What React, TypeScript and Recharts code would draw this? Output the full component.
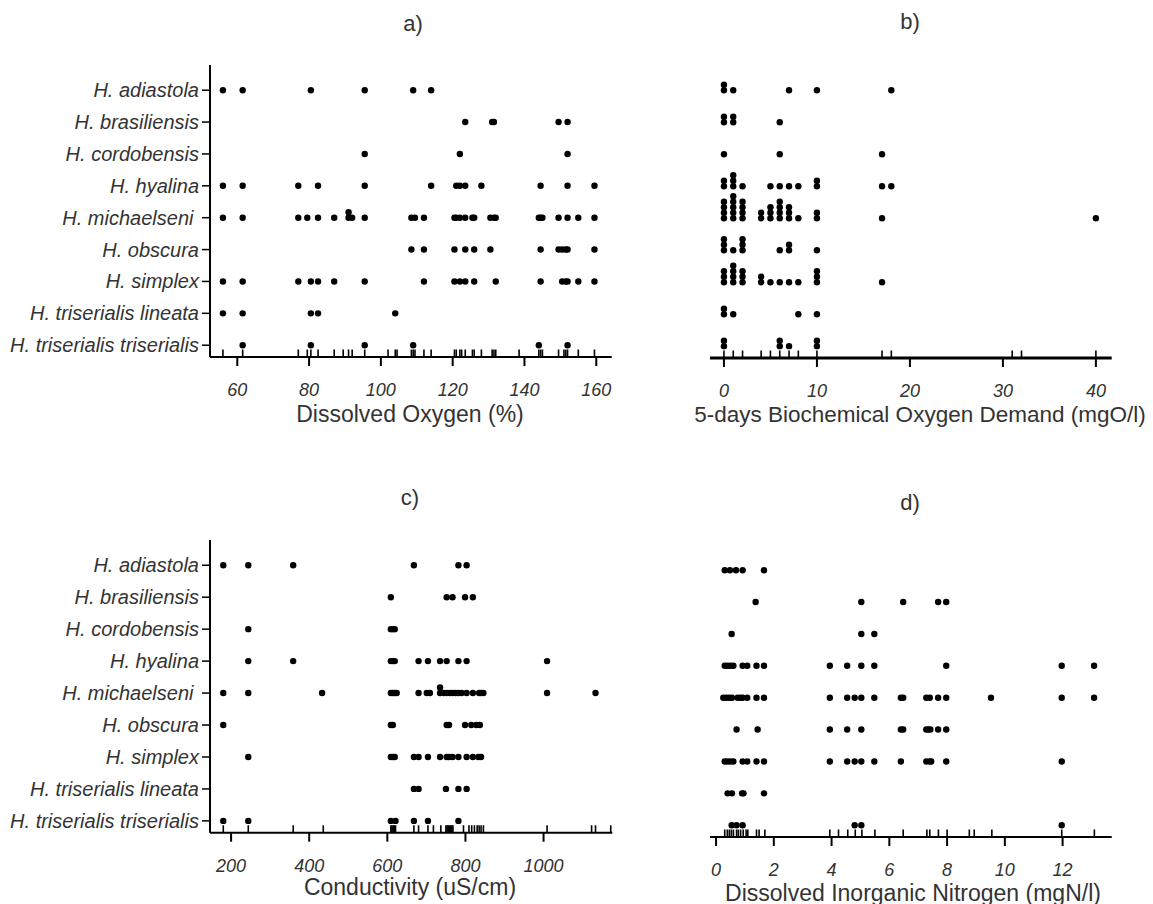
import { ScatterChart, Scatter, XAxis, YAxis } from "recharts";

// species rows, top to bottom
const species = [
  "H. adiastola",
  "H. brasiliensis",
  "H. cordobensis",
  "H. hyalina",
  "H. michaelseni\u00a0",
  "H. obscura",
  "H. simplex",
  "H. triserialis lineata",
  "H. triserialis triserialis",
];

// a) Dissolved Oxygen (%)
const oxygen = [
  [56, 61.5, 80.5, 95.5, 109, 114],
  [123.5, 131, 131.5, 149.5, 152],
  [95.5, 122, 152],
  [56, 61.5, 77, 82.5, 95.5, 114, 121, 122, 123.5, 128, 144.5, 152, 159.5],
  [56, 61.5, 77, 79.5, 82.5, 87, 91, 91, 92, 95.5, 108.5, 109.5, 112, 120.5, 121, 122, 123.5, 125.5, 126, 130.5, 131.5, 132, 144, 144.5, 145, 149.5, 152, 155, 159.5],
  [108.5, 112, 120.5, 123.5, 126, 130.5, 144.5, 149.5, 150.5, 151.5, 152, 159.5],
  [56, 61.5, 77, 80.5, 82.5, 87, 95.5, 112, 120.5, 122, 123.5, 126, 132, 144.5, 150.5, 151.5, 152, 155, 159.5],
  [56, 61.5, 80.5, 82.5, 104],
  [61.5, 80.5, 95.5, 109, 144, 152],
];
const oxygenRug = [56, 61.5, 77, 79.5, 80.5, 82.5, 87, 89.5, 91, 92, 95.5, 102, 104, 104.5, 108.5, 109, 109.5, 112, 114, 120.5, 121, 122, 122.5, 123.5, 125.5, 126, 128, 131, 131.5, 132, 138.5, 144, 144.5, 145, 149.5, 151, 151.5, 152, 155, 159.5];
const oxygenTicks = [60, 80, 100, 120, 140, 160];

// b) 5-days Biochemical Oxygen Demand (mgO/l)
const bod = [
  [0, 0, 1, 7, 10, 18],
  [0, 0, 1, 1, 6],
  [0, 6, 17],
  [0, 0, 1, 1, 1, 2, 5, 6, 7, 8, 10, 10, 17, 18],
  [0, 0, 0, 0, 1, 1, 1, 1, 1, 2, 2, 2, 2, 4, 4, 5, 5, 5, 6, 6, 6, 6, 7, 7, 7, 8, 10, 10, 17, 40],
  [0, 0, 0, 1, 2, 2, 2, 6, 7, 7, 10],
  [0, 0, 0, 1, 1, 1, 1, 2, 2, 2, 4, 4, 5, 6, 7, 8, 10, 10, 10, 17],
  [0, 0, 1, 8, 10],
  [0, 0, 6, 6, 7, 10, 10],
];
const bodRug = [0, 1, 2, 4, 5, 6, 7, 8, 10, 17, 18, 31, 32, 40];
const bodTicks = [0, 10, 20, 30, 40];

// c) Conductivity (uS/cm)
const conductivity = [
  [180, 244, 359, 668, 782, 803],
  [609, 752, 767, 799, 819],
  [244, 609, 614, 619],
  [244, 359, 609, 614, 619, 680, 704, 735, 752, 782, 803, 1009],
  [180, 244, 433, 609, 614, 619, 624, 680, 701, 709, 735, 735, 745, 752, 760, 767, 775, 782, 790, 803, 819, 835, 840, 846, 1009, 1133],
  [180, 609, 614, 752, 758, 799, 815, 828, 837],
  [244, 609, 614, 619, 668, 680, 704, 735, 752, 758, 767, 782, 803, 819, 833, 840],
  [668, 680, 750, 782, 803],
  [180, 244, 609, 621, 668, 704, 782],
];
const conductivityRug = [180, 244, 359, 436, 609, 612, 615, 618, 621, 668, 680, 704, 718, 737, 750, 753, 756, 759, 762, 765, 768, 795, 809, 816, 823, 830, 835, 840, 846, 1009, 1123, 1133, 1172];
const conductivityTicks = [200, 400, 600, 800, 1000];

// d) Dissolved Inorganic Nitrogen (mgN/l)
const nitrogen = [
  [0.3, 0.48, 0.69, 0.92, 1.66],
  [1.37, 5.03, 6.48, 7.69, 7.97],
  [0.54, 5.03, 5.48],
  [0.3, 0.4, 0.5, 0.6, 0.92, 1.08, 1.4, 1.66, 3.94, 4.54, 5.03, 5.48, 7.97, 11.97, 13.09],
  [0.25, 0.35, 0.45, 0.55, 0.75, 0.85, 0.92, 1.08, 1.4, 1.66, 3.94, 4.54, 4.8, 5.03, 5.48, 6.4, 6.48, 7.28, 7.4, 7.69, 7.97, 9.52, 11.97, 13.09],
  [0.71, 1.44, 3.94, 4.54, 5.03, 6.4, 6.48, 7.28, 7.35, 7.42, 7.69, 7.97],
  [0.3, 0.4, 0.5, 0.6, 0.92, 1.08, 1.4, 1.66, 3.94, 4.54, 4.8, 5.03, 5.48, 6.4, 7.28, 7.4, 7.45, 7.97, 11.97],
  [0.4, 0.55, 0.9, 0.95, 1.66],
  [0.54, 0.71, 0.92, 4.8, 5.03, 11.97],
];
const nitrogenRug = [0.3, 0.39, 0.46, 0.53, 0.6, 0.71, 0.77, 0.85, 0.94, 1.04, 1.1, 1.4, 1.49, 1.69, 3.94, 4.24, 4.56, 4.82, 5.05, 5.5, 6.48, 7.3, 7.4, 7.7, 8.0, 8.77, 8.94, 9.55, 11.97, 13.1];
const nitrogenTicks = [0, 2, 4, 6, 8, 10, 12];

const rowTicks = [0, 1, 2, 3, 4, 5, 6, 7, 8];
const ROW_MIN = -0.37;
const ROW_MAX = 8.79;
const INK = "#000";
const TEXT = "#333";
const FONT = '"Liberation Sans", Arial, sans-serif';

// one point per value, repeated values stack upwards
function toPoints(rows: number[][]) {
  const pts: { x: number; y: number; k: number }[] = [];
  rows.forEach((vals, i) => {
    const seen: Record<string, number> = {};
    vals.forEach((v) => {
      const k = seen[v] || 0;
      seen[v] = k + 1;
      pts.push({ x: v, y: 8 - i, k });
    });
  });
  return pts;
}

const Dot = (p: any) => {
  const k = p.payload?.k ?? p.k ?? 0;
  return <circle cx={p.cx} cy={p.cy - k * 5.5} r={3.2} fill={INK} />;
};

const RugMark = (p: any) => (
  <line x1={p.cx} x2={p.cx} y1={p.cy} y2={p.cy - 7.5} stroke={INK} strokeWidth={1.6} />
);

const XTick = (p: any) => (
  <text x={p.x} y={p.y} dy={30} textAnchor="middle" fontStyle="italic" fontSize={18} fill={TEXT} fontFamily={FONT}>
    {p.payload.value}
  </text>
);

const YTick = (p: any) => (
  <text x={p.x} y={p.y} dy={7} textAnchor="end" fontStyle="italic" fontSize={20} fill={TEXT} fontFamily={FONT}>
    {species[8 - p.payload.value]}
  </text>
);

type PanelProps = {
  left: number;
  top: number;
  width: number;
  height: number;
  margin: { top: number; right: number; bottom: number; left: number };
  rows: number[][];
  rug: number[];
  domain: [number, number];
  ticks: number[];
  names: boolean;
  xAxisWidth?: number;
};

function Panel({ left, top, width, height, margin, rows, rug, domain, ticks, names, xAxisWidth = 2 }: PanelProps) {
  const points = toPoints(rows);
  const rugPoints = rug.map((v) => ({ x: v, y: ROW_MIN }));
  return (
    <div style={{ position: "absolute", left, top }}>
      <ScatterChart width={width} height={height} margin={margin}>
        <XAxis
          type="number"
          dataKey="x"
          domain={domain}
          allowDataOverflow
          ticks={ticks}
          interval={0}
          height={40}
          axisLine={{ stroke: INK, strokeWidth: xAxisWidth }}
          tickLine={{ stroke: INK, strokeWidth: 2 }}
          tickSize={9}
          tickMargin={0}
          tick={<XTick />}
        />
        <YAxis
          type="number"
          dataKey="y"
          domain={[ROW_MIN, ROW_MAX]}
          allowDataOverflow
          ticks={rowTicks}
          interval={0}
          width={names ? 210 : 0}
          axisLine={{ stroke: INK, strokeWidth: 2 }}
          tickLine={names ? { stroke: INK, strokeWidth: 1.5 } : false}
          tickSize={8}
          tickMargin={3}
          tick={names ? <YTick /> : false}
        />
        <Scatter data={rugPoints} shape={RugMark} isAnimationActive={false} />
        <Scatter data={points} shape={Dot} isAnimationActive={false} />
      </ScatterChart>
    </div>
  );
}

const labelStyle = (x: number, y: number, size: number) => ({
  position: "absolute" as const,
  left: x,
  top: y,
  transform: "translate(-50%, -50%)",
  fontSize: size,
  fontFamily: FONT,
  color: TEXT,
  whiteSpace: "nowrap" as const,
});

export default function App() {
  return (
    <div style={{ position: "absolute", left: 0, top: 0, width: 1153, height: 904, background: "#fff", overflow: "hidden" }}>
      <div style={labelStyle(413, 24, 22)}>a)</div>
      <div style={labelStyle(910, 22, 22)}>b)</div>
      <div style={labelStyle(410, 498, 22)}>c)</div>
      <div style={labelStyle(910, 503, 22)}>d)</div>

      <Panel
        left={0}
        top={40}
        width={640}
        height={400}
        margin={{ top: 25, right: 28.3, bottom: 43, left: 0 }}
        rows={oxygen}
        rug={oxygenRug}
        domain={[52.4, 164.3]}
        ticks={oxygenTicks}
        names
      />
      <Panel
        left={690}
        top={40}
        width={463}
        height={400}
        margin={{ top: 25, right: 41.3, bottom: 42, left: 20 }}
        rows={bod}
        rug={bodRug}
        domain={[-1.5, 41.7]}
        ticks={bodTicks}
        names={false}
        xAxisWidth={3}
      />
      <Panel
        left={0}
        top={510}
        width={640}
        height={394}
        margin={{ top: 30, right: 27.7, bottom: 31.3, left: 0 }}
        rows={conductivity}
        rug={conductivityRug}
        domain={[146, 1176]}
        ticks={conductivityTicks}
        names
      />
      <Panel
        left={690}
        top={510}
        width={463}
        height={394}
        margin={{ top: 35, right: 41.3, bottom: 27, left: 20 }}
        rows={nitrogen}
        rug={nitrogenRug}
        domain={[-0.21, 13.7]}
        ticks={nitrogenTicks}
        names={false}
      />

      <div style={labelStyle(410, 414, 23)}>Dissolved Oxygen (%)</div>
      <div style={labelStyle(920, 415, 22.5)}>5-days Biochemical Oxygen Demand (mgO/l)</div>
      <div style={labelStyle(410, 887, 23)}>Conductivity (uS/cm)</div>
      <div style={labelStyle(913, 893, 23)}>Dissolved Inorganic Nitrogen (mgN/l)</div>
    </div>
  );
}
